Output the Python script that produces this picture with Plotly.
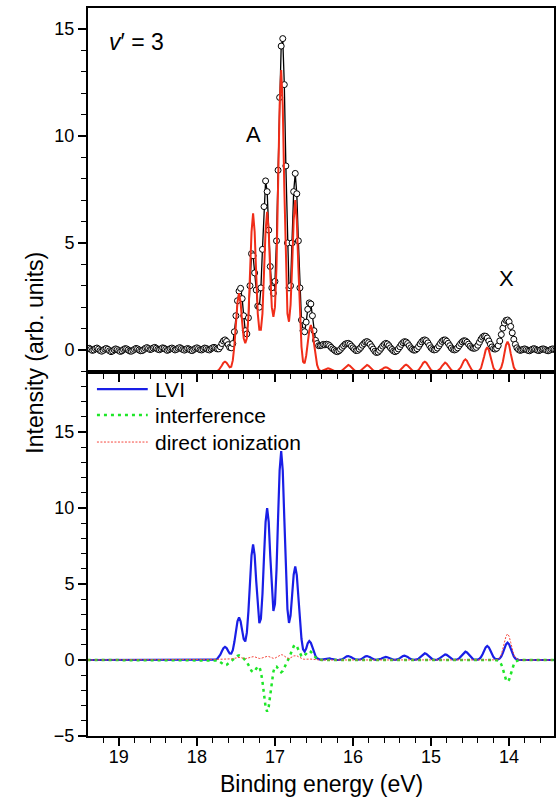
import numpy as np
import plotly.graph_objects as go

STEP = 0.02  # eV spacing of the sampled spectra

# ---------------- top panel: measured spectrum (open circles) ----------------
data_left_start = 19.40
data_left = [0.05, 0.08, 0.03, -0.02, 0.00, 0.06, 0.09, 0.04, -0.03, -0.06,
             -0.02, 0.04, 0.07, 0.03, -0.04, -0.08, -0.05, 0.01, 0.05, 0.02,
             -0.03, -0.07, -0.04, 0.02, 0.06, 0.05, 0.00, -0.05, -0.06, -0.02,
             0.03, 0.07, 0.05, 0.00, -0.04, -0.03, 0.02, 0.08, 0.11, 0.07,
             0.02, 0.04, 0.09, 0.12, 0.08, 0.03, 0.01, 0.05, 0.10, 0.08,
             0.03, -0.02, 0.01, 0.06, 0.09, 0.05, 0.00, 0.03, 0.08, 0.11,
             0.07, 0.02, -0.01, 0.03, 0.07, 0.04, -0.01, -0.03, 0.02, 0.07,
             0.10, 0.06, 0.01, 0.00, 0.04, 0.09, 0.07, 0.02, 0.00, 0.05,
             0.10, 0.12, 0.09, 0.05]
data_peak_start = 17.72
data_peak = [0.05, 0.15, 0.30, 0.42, 0.47, 0.40, 0.25, 0.12, 0.10, 0.30,
             0.85, 1.60, 2.30, 2.75, 2.88, 2.40, 1.60, 0.90, 0.75, 1.50,
             3.00, 4.50, 4.40, 3.60, 2.80, 2.05, 2.00, 2.90, 4.70, 6.70,
             7.90, 7.40, 5.60, 3.90, 2.90, 2.65, 3.20, 5.10, 8.40, 11.80,
             14.20, 14.55, 12.40, 8.60, 5.00, 2.90, 3.00, 5.00, 7.40, 8.25,
             7.30, 5.10, 2.90, 1.40, 0.90, 0.85, 1.30, 1.90, 2.20, 2.15,
             1.60, 0.90, 0.45, 0.30, 0.20]
data_right_start = 16.42
data_right = [0.20, 0.22, 0.26, 0.24, 0.27, 0.25, 0.20, 0.12, 0.05, 0.00,
              -0.06, -0.08, -0.04, 0.03, 0.12, 0.20, 0.27, 0.30, 0.31, 0.26,
              0.18, 0.10, 0.03, -0.03, -0.02, 0.04, 0.12, 0.22, 0.30, 0.37,
              0.39, 0.34, 0.26, 0.15, 0.04, -0.06, -0.12, -0.10, -0.02, 0.08,
              0.18, 0.26, 0.31, 0.28, 0.20, 0.10, 0.02, -0.05, -0.08, -0.04,
              0.05, 0.15, 0.26, 0.34, 0.39, 0.37, 0.30, 0.20, 0.10, 0.03,
              -0.01, 0.00, 0.06, 0.16, 0.28, 0.38, 0.45, 0.47, 0.43, 0.33,
              0.21, 0.10, 0.03, 0.00, 0.02, 0.09, 0.19, 0.30, 0.40, 0.46,
              0.47, 0.41, 0.31, 0.20, 0.09, 0.02, 0.00, 0.03, 0.10, 0.20,
              0.30, 0.38, 0.43, 0.42, 0.36, 0.27, 0.18, 0.11, 0.08, 0.08,
              0.12, 0.22, 0.36, 0.50, 0.60, 0.65, 0.64, 0.56, 0.42, 0.27,
              0.14, 0.06, 0.04, 0.08, 0.20, 0.42, 0.72, 1.02, 1.26, 1.38,
              1.40, 1.32, 1.10, 0.80, 0.50, 0.26, 0.10, 0.02, -0.02, 0.00,
              0.03, 0.05, 0.02, -0.02, -0.04, 0.00, 0.04, 0.06, 0.03, -0.01,
              -0.03, 0.00, 0.04, 0.05, 0.02, -0.02, -0.04, -0.01, 0.03, 0.05,
              0.02, 0.00]

# ---------------- top panel: fitted spectrum (red line, baseline -1) ----------------
fit_edges = [19.40, 13.40]
fit_base = -1.0
fit_a_start = 17.90
fit_a = [-1, -1, -1, -1, -1, -1, -1, -1.0, -0.98, -0.94,
         -0.85, -0.73, -0.60, -0.55, -0.60, -0.72, -0.81, -0.78, -0.49, 0.19,
         1.22, 2.22, 2.65, 2.22, 1.30, 0.55, 0.32, 0.55, 1.55, 3.50,
         5.52, 6.39, 5.52, 3.55, 1.70, 0.95, 0.95, 1.70, 3.60, 5.58,
         6.46, 5.58, 3.60, 2.00, 1.55, 2.00, 3.90, 7.56, 11.42, 13.08,
         11.42, 7.57, 3.80, 1.70, 1.32, 2.10, 3.90, 6.06, 7.00, 6.06,
         3.86, 1.62, 0.15, -0.55, -0.62, -0.28, 0.32, 0.91, 1.17, 0.91,
         0.32, -0.28, -0.70, -0.90, -0.97, -0.98]
fit_b_start = 16.38
fit_b = [-0.95, -0.92, -0.88, -0.86, -0.88, -0.92, -0.95, -0.98, -0.99, -1.0,
         -1.0, -0.99, -0.96, -0.90, -0.82, -0.74, -0.70, -0.74, -0.82, -0.90,
         -0.96, -0.99, -1.0, -0.99, -0.96, -0.90, -0.82, -0.74, -0.70, -0.74,
         -0.82, -0.90, -0.96, -0.99, -1.0, -0.99, -0.97, -0.94, -0.88, -0.83,
         -0.81, -0.83, -0.88, -0.94, -0.97, -0.99, -1.0, -1.0, -0.99, -0.96,
         -0.90, -0.81, -0.73, -0.69, -0.73, -0.81, -0.90, -0.96, -0.99, -0.99,
         -0.98, -0.94, -0.85, -0.73, -0.60, -0.55, -0.60, -0.73, -0.85, -0.94,
         -0.98, -1.0, -0.99, -0.98, -0.94, -0.87, -0.75, -0.64, -0.59, -0.64,
         -0.75, -0.87, -0.94, -0.98, -1.0, -0.99, -0.98, -0.92, -0.82, -0.66,
         -0.51, -0.44, -0.51, -0.66, -0.82, -0.92, -0.98, -1.0, -1.0, -0.99,
         -0.95, -0.85, -0.63, -0.31, 0.00, 0.13, 0.00, -0.31, -0.63, -0.85,
         -0.95, -0.99, -0.98, -0.94, -0.81, -0.55, -0.16, 0.23, 0.39, 0.23,
         -0.16, -0.55, -0.81, -0.94, -0.98, -1.0, -1.0, -1.0, -1.0, -1.0]

# ---------------- bottom panel: LVI (blue) ----------------
lvi_a_start = 17.90
lvi_a = [0, 0, 0, 0, 0, 0, 0.01, 0.02, 0.07, 0.18,
         0.35, 0.58, 0.78, 0.86, 0.79, 0.60, 0.43, 0.42, 0.65, 1.18,
         1.89, 2.54, 2.80, 2.55, 1.95, 1.37, 1.22, 1.80, 3.20, 5.14,
         6.89, 7.60, 6.91, 5.20, 3.41, 2.42, 2.71, 4.33, 6.80, 9.08,
         10.00, 9.09, 6.85, 4.51, 3.23, 3.68, 5.94, 9.35, 12.48, 13.75,
         12.47, 9.32, 5.83, 3.35, 2.44, 2.93, 4.26, 5.61, 6.16, 5.58,
         4.16, 2.57, 1.38, 0.70, 0.55, 0.75, 1.10, 1.25, 1.13, 0.84,
         0.51, 0.26, 0.11, 0.04, 0.02, 0.03]
lvi_b_start = 16.38
lvi_b = [0.05, 0.08, 0.11, 0.12, 0.11, 0.08, 0.05, 0.02, 0.01, 0.00,
         0.01, 0.02, 0.05, 0.11, 0.18, 0.24, 0.26, 0.24, 0.18, 0.11,
         0.05, 0.02, 0.02, 0.02, 0.05, 0.11, 0.18, 0.24, 0.26, 0.24,
         0.18, 0.11, 0.05, 0.02, 0.01, 0.02, 0.04, 0.08, 0.13, 0.18,
         0.20, 0.18, 0.13, 0.08, 0.04, 0.02, 0.01, 0.02, 0.06, 0.12,
         0.20, 0.26, 0.29, 0.26, 0.20, 0.12, 0.06, 0.02, 0.01, 0.01,
         0.04, 0.09, 0.18, 0.30, 0.40, 0.44, 0.40, 0.30, 0.18, 0.09,
         0.04, 0.01, 0.01, 0.03, 0.08, 0.15, 0.25, 0.34, 0.37, 0.34,
         0.25, 0.15, 0.08, 0.03, 0.01, 0.02, 0.05, 0.11, 0.23, 0.37,
         0.50, 0.55, 0.50, 0.37, 0.23, 0.11, 0.05, 0.02, 0.01, 0.03,
         0.08, 0.19, 0.38, 0.62, 0.83, 0.92, 0.83, 0.62, 0.38, 0.19,
         0.08, 0.04, 0.04, 0.10, 0.23, 0.47, 0.77, 1.03, 1.14, 1.03,
         0.77, 0.47, 0.23, 0.10, 0.03, 0.01, 0, 0, 0, 0]

# ---------------- bottom panel: interference (green) & direct ionization (red) ----------------
comp_edges = [19.40, 13.40]
comp_a_start = 17.80
comp_b_start = 14.18
interf_a = [0, 0, -0.01, -0.03, -0.07, -0.14, -0.24, -0.32, -0.35, -0.32,
            -0.23, -0.13, -0.05, 0.03, 0.11, 0.20, 0.27, 0.30, 0.27, 0.20,
            0.10, -0.01, -0.14, -0.32, -0.54, -0.72, -0.80, -0.73, -0.57, -0.43,
            -0.45, -0.77, -1.42, -2.30, -3.08, -3.40, -3.08, -2.30, -1.42, -0.77,
            -0.45, -0.43, -0.57, -0.73, -0.80, -0.72, -0.53, -0.30, -0.08, 0.14,
            0.39, 0.67, 0.90, 1.00, 0.91, 0.68, 0.43, 0.26, 0.21, 0.28,
            0.41, 0.55, 0.60, 0.54, 0.40, 0.25, 0.12, 0.05, 0.02, 0.00,
            0.00]
interf_b = [0, -0.01, -0.04, -0.12, -0.29, -0.59, -0.96, -1.30, -1.43,
            -1.30, -0.96, -0.59, -0.29, -0.12, -0.04, -0.01, 0]
direct_a = [0, 0.01, 0.02, 0.03, 0.04, 0.05, 0.05, 0.06, 0.06, 0.06,
            0.05, 0.05, 0.06, 0.08, 0.11, 0.14, 0.16, 0.17, 0.16, 0.13,
            0.10, 0.09, 0.11, 0.15, 0.19, 0.21, 0.22, 0.21, 0.17, 0.12,
            0.10, 0.11, 0.15, 0.20, 0.23, 0.24, 0.23, 0.19, 0.14, 0.11,
            0.12, 0.17, 0.25, 0.32, 0.35, 0.33, 0.26, 0.18, 0.12, 0.10,
            0.13, 0.20, 0.27, 0.30, 0.28, 0.22, 0.15, 0.09, 0.06, 0.05,
            0.06, 0.07, 0.07, 0.06, 0.05, 0.03, 0.02, 0.01, 0.01, 0,
            0]
direct_b = [0, 0.01, 0.05, 0.15, 0.35, 0.71, 1.16, 1.56, 1.72,
            1.56, 1.16, 0.71, 0.35, 0.15, 0.05, 0.01, 0]

series_names = ["LVI", "interference", "direct ionization"]


def grid(start, n):
    return list(np.round(start - STEP * np.arange(n), 2))


x_data = grid(data_left_start, len(data_left)) + grid(data_peak_start, len(data_peak)) + \
    grid(data_right_start, len(data_right))
y_data = data_left + data_peak + data_right

x_fit = [fit_edges[0]] + grid(fit_a_start, len(fit_a)) + grid(fit_b_start, len(fit_b)) + [fit_edges[1]]
y_fit = [fit_base] + fit_a + fit_b + [fit_base]

x_lvi = [comp_edges[0]] + grid(lvi_a_start, len(lvi_a)) + grid(lvi_b_start, len(lvi_b)) + [comp_edges[1]]
y_lvi = [0] + lvi_a + lvi_b + [0]

x_comp = [comp_edges[0]] + grid(comp_a_start, len(interf_a)) + grid(comp_b_start, len(interf_b)) + [comp_edges[1]]
y_interf = [0] + interf_a + interf_b + [0]
y_direct = [0] + direct_a + direct_b + [0]

FONT = "Liberation Sans, Arial, Helvetica, sans-serif"
BLUE = "rgb(25,30,230)"
GREEN = "rgb(30,230,40)"
PINK = "rgb(245,70,60)"
styles = [dict(color=BLUE, width=2.2),
          dict(color=GREEN, width=2.5, dash="3px,4px"),
          dict(color=PINK, width=1, dash="2px,1.5px")]

fig = go.Figure()

fig.add_trace(go.Scatter(
    x=x_data, y=y_data, mode="lines+markers", xaxis="x", yaxis="y",
    line=dict(color="black", width=1.3),
    marker=dict(symbol="circle", size=6, color="white", line=dict(color="black", width=1)),
    showlegend=False, hoverinfo="skip"))
fig.add_trace(go.Scatter(
    x=x_fit, y=y_fit, mode="lines", xaxis="x", yaxis="y",
    line=dict(color="rgb(240,45,25)", width=2),
    showlegend=False, hoverinfo="skip"))

for xs, ys, name, st in [(x_lvi, y_lvi, series_names[0], styles[0]),
                         (x_comp, y_interf, series_names[1], styles[1]),
                         (x_comp, y_direct, series_names[2], styles[2])]:
    fig.add_trace(go.Scatter(x=xs, y=ys, mode="lines", xaxis="x2", yaxis="y2",
                             name=name, line=st, showlegend=False, hoverinfo="skip"))

# legend drawn as key lines + real text labels (upper-left of lower panel)
legend_rows_y = [0.4766, 0.4409, 0.4038]
shapes = []
annotations = []
for name, st, ly in zip(series_names, styles, legend_rows_y):
    shapes.append(dict(type="line", xref="paper", yref="paper", x0=0.0192, x1=0.1282,
                       y0=ly, y1=ly, line=st))
    annotations.append(dict(text=name, x=0.1389, y=ly, xref="paper", yref="paper",
                            xanchor="left", yanchor="middle", showarrow=False,
                            font=dict(size=21, family=FONT, color="black")))

annotations += [
    dict(text="<i>v</i>′ = 3", x=18.78, y=14.4, xref="x", yref="y",
         showarrow=False, font=dict(size=23, family=FONT)),
    dict(text="A", x=17.28, y=10.05, xref="x", yref="y",
         showarrow=False, font=dict(size=22, family=FONT)),
    dict(text="X", x=14.03, y=3.36, xref="x", yref="y",
         showarrow=False, font=dict(size=22, family=FONT)),
    dict(text="Intensity (arb. units)", x=-0.113, y=0.527, xref="paper", yref="paper",
         textangle=-90, showarrow=False, xanchor="center", yanchor="middle",
         font=dict(size=23, family=FONT)),
    dict(text="Binding energy (eV)", x=0.5, y=-0.0655, xref="paper", yref="paper",
         showarrow=False, xanchor="center", yanchor="middle",
         font=dict(size=23, family=FONT)),
]

XR = [19.395, 13.425]
common_axis = dict(
    showline=True, linecolor="black", linewidth=2, mirror=True,
    ticks="outside", ticklen=8, tickwidth=1.6, tickcolor="black",
    showgrid=False, zeroline=False,
    tickfont=dict(size=18, family=FONT, color="black"),
)


def minor(dt, t0):
    return dict(dtick=dt, tick0=t0, ticks="outside", ticklen=5,
                tickwidth=1.4, tickcolor="black", showgrid=False)


fig.update_layout(
    width=558, height=797,
    margin=dict(l=88, r=2, t=8, b=61),
    paper_bgcolor="white", plot_bgcolor="white",
    font=dict(family=FONT, size=18, color="black"),
    showlegend=False,
    xaxis=dict(domain=[0, 1], anchor="y", range=XR, dtick=1, tick0=14,
               showticklabels=False, minor=minor(0.2, 14), **common_axis),
    yaxis=dict(domain=[0.5, 1], anchor="x", range=[-1.03, 15.98], dtick=5, tick0=0,
               minor=minor(1, 0), **common_axis),
    xaxis2=dict(domain=[0, 1], anchor="y2", range=XR, dtick=1, tick0=14,
                ticklabelstandoff=-5,
                minor=minor(0.2, 14), **common_axis),
    yaxis2=dict(domain=[0, 0.5], anchor="x2", range=[-5, 18.95], dtick=5, tick0=0,
                minor=minor(1, 0), **common_axis),
    shapes=shapes,
    annotations=annotations,
)

# remove the page's default body margin so the figure fills the window exactly
fig.write_html("out.html",
               config={"displayModeBar": False},
               post_script="document.body.style.margin='0px';"
                           "document.body.style.overflow='hidden';")
